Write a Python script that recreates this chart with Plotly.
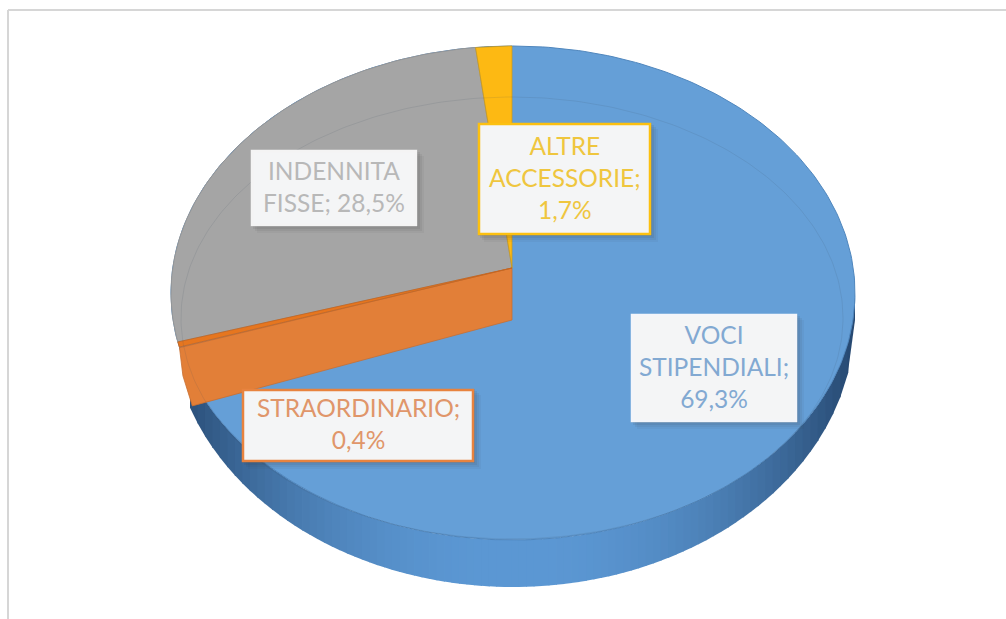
import numpy as np
import plotly.graph_objects as go

categories = ["VOCI STIPENDIALI", "STRAORDINARIO", "INDENNITA FISSE", "ALTRE ACCESSORIE"]
values = [69.3, 0.4, 28.5, 1.7]
colors = ["#659fd7", "#e27f38", "#a5a5a5", "#fdb913"]
label_lines = [["VOCI", "STIPENDIALI;"], ["STRAORDINARIO;"], ["INDENNITA", "FISSE;"], ["ALTRE", "ACCESSORIE;"]]
text_colors = ["#82a9d2", "#e0966a", "#b8b8b8", "#efc63e"]
# label boxes: left, top, right, bottom in page pixels
boxes = [(632, 315, 796, 421), (243, 390, 473, 461), (252, 151, 416, 225), (479, 124, 650, 234)]
border = ["#f3f5fa", "#e8833f", "#f4f4f4", "#fcc010"]

CX, CY, RX, RY = 513.0, 293.0, 342.0, 247.0      # rim of the top face
AX, AY, AY2 = 512.0, 268.0, 320.0                # apex, upper and lower
SIL_CY, SIL_RY = 320.0, 267.0                    # silhouette of the lower edge
VX, VY = 342.0, 222.0                            # perspective of slice directions


def rim_point(theta, ay=AY, cy=CY, ry=RY, vy=VY):
    dx, dy = VX * np.sin(theta), -vy * np.cos(theta)
    ox, oy = (AX - CX) / RX, (ay - cy) / ry
    a = (dx / RX) ** 2 + (dy / ry) ** 2
    b = 2 * (ox * dx / RX + oy * dy / ry)
    c = ox ** 2 + oy ** 2 - 1
    t = (-b + np.sqrt(b * b - 4 * a * c)) / (2 * a)
    return AX + t * dx, ay + t * dy


def wedge(t0, t1, n=80):
    pts = [rim_point(t) for t in np.linspace(t0, t1, n)]
    return [AX] + [p[0] for p in pts] + [AX], [AY] + [p[1] for p in pts] + [AY]


def poly(x, y, fill, line="rgba(0,0,0,0)", width=0):
    return go.Scatter(x=x, y=y, mode="lines", fill="toself", fillcolor=fill,
                      line=dict(color=line, width=width), hoverinfo="skip", showlegend=False)


fracs = np.array(values) / sum(values)
edges = np.concatenate([[0], np.cumsum(fracs)]) * 2 * np.pi
fig = go.Figure()


def wall_color(x):
    s = abs(x - CX) / RX
    s = min(s, 1.0) ** 2.2
    lo, hi = np.array([0x5c, 0x98, 0xd4]), np.array([0x26, 0x48, 0x70])
    c = lo + (hi - lo) * s
    return "rgb(%d,%d,%d)" % tuple(c)


# side wall, as vertical strips
xs = np.linspace(190, CX + RX - 0.01, 90)
for a, b in zip(xs[:-1], xs[1:]):
    q = np.array([a, b + 0.8]).clip(max=CX + RX)
    top = CY + RY * np.sqrt(1 - ((q - CX) / RX) ** 2)
    bot = SIL_CY + SIL_RY * np.sqrt(1 - ((q - CX) / RX) ** 2)
    fig.add_trace(poly([q[0], q[1], q[1], q[0], q[0]], [top[0], top[1], bot[1], bot[0], top[0]], wall_color((a + b) / 2)))

# blue top surface: whole rim
t = np.linspace(0, 2 * np.pi, 361)
fig.add_trace(poly(CX + RX * np.sin(t), CY - RY * np.cos(t), colors[0], "#4f86bd", 1))

# grey, yellow and thin orange slices
x, y = wedge(edges[2], edges[3])
fig.add_trace(poly(x, y, colors[2], "#969696", 1))
x, y = wedge(edges[3], edges[4])
fig.add_trace(poly(x, y, colors[3], "#c99a20", 0.8))

# orange cut face under the blue slice
tip_top = rim_point(edges[1])
tip_low = rim_point(edges[1], ay=AY2, cy=SIL_CY, ry=SIL_RY, vy=240.0)
mid = ((tip_top[0] + tip_low[0]) / 2 - 1, (tip_top[1] + tip_low[1]) / 2)
fig.add_trace(poly([AX, tip_top[0], mid[0], tip_low[0] + 4, AX, AX],
                   [AY, tip_top[1], mid[1], tip_low[1] + 2, AY2, AY], colors[1], "#c96f30", 0.8))
x, y = wedge(edges[1], edges[2])
fig.add_trace(poly(x, y, "#e6761f", "#c4651f", 0.8))

# faint ellipse of the far rim
fig.add_trace(go.Scatter(x=512 + 331 * np.sin(t), y=318 - 221 * np.cos(t), mode="lines",
                         line=dict(color="rgba(60,70,90,0.12)", width=1), hoverinfo="skip", showlegend=False))

shapes = [
    dict(type="line", x0=8, x1=8, y0=10, y1=619, line=dict(color="#d6d6d6", width=2)),
    dict(type="line", x0=8, x1=1006, y0=10, y1=10, line=dict(color="#d6d6d6", width=2)),
]
annotations = []
for cat, v, lines, tc, bx, bc in zip(categories, values, label_lines, text_colors, boxes, border):
    l, tp, r, bt = bx
    for off, op in ((8, 0.05), (6, 0.07), (4, 0.09), (2, 0.10)):
        shapes.append(dict(type="rect", x0=l + off - 3, x1=r + off, y0=tp + off - 3, y1=bt + off,
                           fillcolor="rgba(60,60,60,%.2f)" % op, line=dict(width=0)))
    shapes.append(dict(type="rect", x0=l, x1=r, y0=tp, y1=bt, fillcolor="#f4f5f6",
                       line=dict(color=bc, width=2.5)))
    text = f"{v:.1f}%".replace(".", ",")
    if cat == "INDENNITA FISSE":
        body = lines[0] + "<br>" + lines[1] + " " + text
    else:
        body = "<br>".join(lines + [text])
    annotations.append(dict(x=(l + r) / 2, y=(tp + bt) / 2, yshift=2, text=body, showarrow=False, xanchor="center",
                            yanchor="middle", align="center", font=dict(family="Lato", size=24.5, color=tc)))

fig.update_layout(
    width=1006, height=619, margin=dict(l=0, r=0, t=0, b=0), autosize=False,
    paper_bgcolor="white", plot_bgcolor="white", showlegend=False,
    xaxis=dict(range=[0, 1006], visible=False, fixedrange=True),
    yaxis=dict(range=[619, 0], visible=False, fixedrange=True),
    shapes=shapes, annotations=annotations,
)
fig.write_html("out.html", config=dict(displayModeBar=False),
               post_script="document.body.style.margin='0';document.body.style.overflow='hidden';")
